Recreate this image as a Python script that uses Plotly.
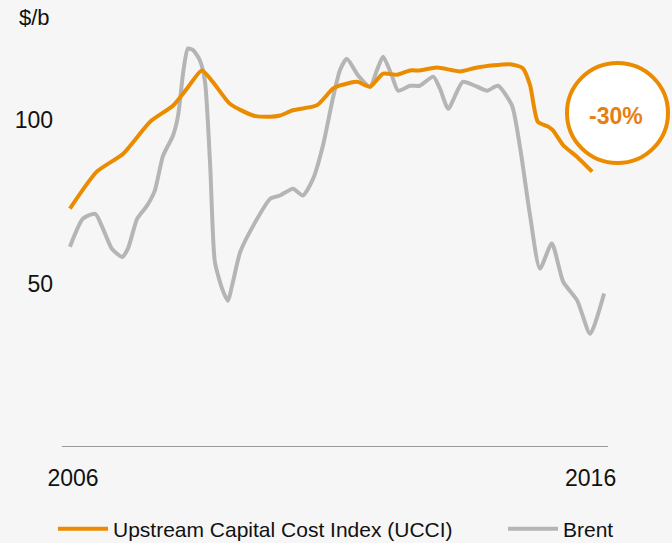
import plotly.graph_objects as go

# UCCI (orange) - fractional years and values
ucci_years = [2005.94, 2006.46, 2006.97, 2007.49, 2007.93, 2008.20, 2008.49, 2008.70,
              2009.03, 2009.48, 2009.81, 2010.00, 2010.25, 2010.71, 2011.02, 2011.16,
              2011.49, 2011.74, 2011.99, 2012.26, 2012.51, 2012.70, 2013.03, 2013.48,
              2013.81, 2014.44, 2014.69, 2014.83, 2014.98, 2015.18, 2015.27, 2015.47,
              2015.74, 2016.03]
ucci_values = [73.0, 84.3, 89.8, 99.6, 104.5, 109.7, 115.3, 111.8,
               105.1, 101.5, 101.1, 101.5, 103.1, 104.6, 109.7, 110.7,
               111.8, 110.3, 114.3, 114.0, 115.3, 115.3, 116.2, 115.0,
               116.2, 117.2, 116.0, 110.8, 99.6, 98.1, 97.0, 92.4,
               88.8, 84.3]

# Brent (grey)
brent_years = [2005.94, 2006.19, 2006.43, 2006.58, 2006.75, 2006.95, 2007.06, 2007.24,
               2007.43, 2007.58, 2007.74, 2007.93, 2008.03, 2008.13, 2008.22, 2008.32,
               2008.45, 2008.55, 2008.65, 2008.74, 2008.88, 2008.99, 2009.09, 2009.23,
               2009.48, 2009.81, 2010.00, 2010.25, 2010.44, 2010.64, 2010.83, 2011.02,
               2011.16, 2011.29, 2011.51, 2011.74, 2011.87, 2011.99, 2012.16, 2012.28,
               2012.51, 2012.70, 2012.96, 2013.09, 2013.25, 2013.53, 2013.81, 2014.00,
               2014.21, 2014.48, 2014.64, 2014.83, 2015.02, 2015.25, 2015.47, 2015.74,
               2015.99, 2016.26]
brent_values = [61.3, 69.9, 71.4, 66.8, 60.7, 58.2, 60.7, 69.9,
                73.9, 78.5, 89.2, 95.3, 101.5, 114.9, 122.0, 121.5,
                118.4, 111.8, 86.2, 56.7, 48.5, 44.8, 50.6, 59.7,
                67.7, 76.0, 77.0, 79.1, 77.0, 82.2, 92.4, 106.7,
                115.5, 118.9, 113.7, 110.3, 115.3, 119.5, 113.7, 109.1,
                110.6, 110.6, 113.4, 109.7, 103.6, 111.8, 110.3, 109.1,
                110.6, 104.6, 91.4, 70.9, 54.6, 62.3, 50.6, 44.9,
                34.7, 47.0]

x_ticks = [2006, 2016]
x_tick_labels = ["2006", "2016"]
y_ticks = [50, 100]
y_tick_labels = ["50", "100"]

ORANGE = "#EB8C00"
GREY = "#B5B5B5"
BG = "#F6F6F6"
FONT = "Liberation Sans, Arial, sans-serif"

fig = go.Figure()
fig.add_trace(go.Scatter(
    x=brent_years, y=brent_values, mode="lines", name="Brent", legend="legend2",
    line=dict(color=GREY, width=4, shape="spline", smoothing=0.6),
))
fig.add_trace(go.Scatter(
    x=ucci_years, y=ucci_values, mode="lines", name="Upstream Capital Cost Index (UCCI)",
    legend="legend",
    line=dict(color=ORANGE, width=4, shape="spline", smoothing=0.6),
))

legend_common = dict(orientation="h", yanchor="middle", y=-0.188, xanchor="left",
                     itemwidth=50, bgcolor="rgba(0,0,0,0)",
                     font=dict(size=21, family=FONT, color="#111111"))

fig.update_layout(
    width=672, height=543,
    margin=dict(l=62, r=64, t=10, b=96, autoexpand=False),
    paper_bgcolor=BG, plot_bgcolor=BG,
    font=dict(family=FONT, size=22, color="#111111"),
    showlegend=True,
    legend=dict(x=-0.0165, **legend_common),
    legend2=dict(x=0.8077, **legend_common),
    xaxis=dict(range=[2005.787, 2016.336], tickvals=x_ticks, ticktext=x_tick_labels,
               showgrid=False, zeroline=False, showline=False, ticks="",
               tickfont=dict(size=23), ticklabelstandoff=15, fixedrange=True),
    yaxis=dict(range=[0, 133.8], tickvals=y_ticks, ticktext=y_tick_labels,
               showgrid=False, zeroline=False, showline=False, ticks="",
               tickfont=dict(size=23), ticklabelstandoff=8, fixedrange=True),
    shapes=[
        dict(type="line", xref="paper", yref="y", x0=0, x1=1, y0=0, y1=0,
             line=dict(color="#9A9A9A", width=2)),
        dict(type="circle", xref="paper", yref="paper",
             x0=0.9249, x1=1.1099, y0=0.6499, y1=0.8787,
             line=dict(color=ORANGE, width=4), fillcolor="#FFFFFF", layer="above"),
    ],
    annotations=[
        dict(text="$/b", xref="paper", yref="paper", x=-0.0824, y=0.9817,
             xanchor="left", yanchor="middle", showarrow=False,
             font=dict(size=22, family=FONT, color="#111111")),
        dict(text="<b>-30%</b>", xref="paper", yref="paper", x=1.0147, y=0.7574,
             xanchor="center", yanchor="middle", showarrow=False,
             font=dict(size=23, family=FONT, color="#E67E10")),
    ],
)

fig.write_html("out.html", config={"displayModeBar": False},
               post_script="document.body.style.margin='0';document.body.style.background='#F6F6F6';")
